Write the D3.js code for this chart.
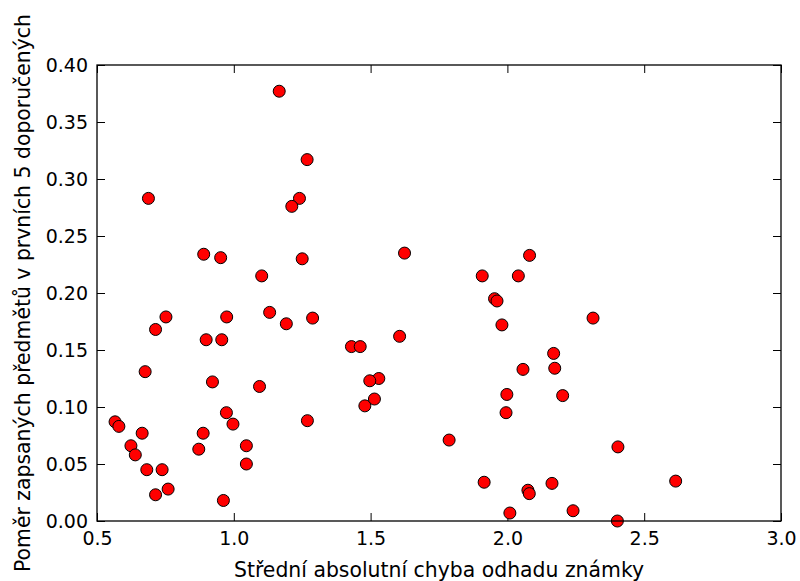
<!DOCTYPE html>
<html>
<head>
<meta charset="utf-8">
<script src="https://cdn.jsdelivr.net/npm/d3@7"></script>
<style>
  body { margin: 0; background: #fff; }
  svg { display: block; }
  text { font-family: "DejaVu Sans", sans-serif; fill: #000; }
</style>
</head>
<body>
<svg width="800" height="581"></svg>
<script>
// Mean absolute error of grade estimate (x) vs. share of enrolled courses in first 5 recommendations (y)
var errors = [
    1.166, 1.268, 0.688, 1.240, 1.212, 0.890, 0.952, 1.250, 1.102,
    1.131, 0.752, 0.974, 1.288, 1.192, 0.714, 0.899, 0.956, 0.676, 0.922,
    1.094, 0.973, 0.566, 1.269, 0.580, 0.997, 0.665, 0.888, 0.624, 1.046,
    0.872, 0.640, 0.682, 0.738, 1.046, 0.760, 0.714, 0.962,
    1.624, 2.081, 1.908, 2.040, 1.953, 1.962,
    1.980, 1.606, 1.430, 1.462, 2.169, 2.173, 2.057, 1.530, 1.497, 1.998,
    2.202, 1.514, 1.479, 1.995, 1.787, 1.915, 2.163, 2.075, 2.080, 2.009,
    2.240, 2.313, 2.404, 2.615, 2.402
];
var ratios = [
    0.377, 0.317, 0.283, 0.283, 0.276, 0.234, 0.231, 0.230, 0.215,
    0.183, 0.179, 0.179, 0.178, 0.173, 0.168, 0.159, 0.159, 0.131, 0.122,
    0.118, 0.095, 0.087, 0.088, 0.083, 0.085, 0.077, 0.077, 0.066, 0.066,
    0.063, 0.058, 0.045, 0.045, 0.050, 0.028, 0.023, 0.018,
    0.235, 0.233, 0.215, 0.215, 0.195, 0.193,
    0.172, 0.162, 0.153, 0.153, 0.147, 0.134, 0.133, 0.125, 0.123, 0.111,
    0.110, 0.107, 0.101, 0.095, 0.071, 0.034, 0.033, 0.027, 0.024, 0.007,
    0.009, 0.178, 0.065, 0.035, 0.000
];
var xTicks = [0.5, 1.0, 1.5, 2.0, 2.5, 3.0];
var yTicks = [0.00, 0.05, 0.10, 0.15, 0.20, 0.25, 0.30, 0.35, 0.40];

var svg = d3.select('svg');
var padding = {t: 65, r: 19, b: 60, l: 97};
var chartWidth = 800 - padding.l - padding.r;
var chartHeight = 581 - padding.t - padding.b;

var chartG = svg.append('g')
    .attr('transform', 'translate(' + [padding.l, padding.t] + ')');

var xScale = d3.scaleLinear().domain([0.5, 3.0]).range([0, chartWidth]);
var yScale = d3.scaleLinear().domain([0, 0.40]).range([chartHeight, 0]);

var tickLen = 8;
var fontSize = 19;
var labelSize = 20.4;

// axes: ticks pointing inward on all four sides
function styleAxis(g) {
    g.select('.domain').remove();
    g.selectAll('.tick line').attr('stroke', '#000').attr('stroke-width', 1);
    g.selectAll('.tick text').style('font-size', fontSize + 'px').attr('fill', '#000');
}

chartG.append('g')
    .attr('transform', 'translate(0,' + chartHeight + ')')
    .call(d3.axisBottom(xScale).tickValues(xTicks).tickFormat(d3.format('.1f'))
        .tickSizeInner(-tickLen).tickSizeOuter(0).tickPadding(11))
    .call(styleAxis);

chartG.append('g')
    .call(d3.axisTop(xScale).tickValues(xTicks).tickFormat('')
        .tickSizeInner(-tickLen).tickSizeOuter(0))
    .call(styleAxis);

chartG.append('g')
    .call(d3.axisLeft(yScale).tickValues(yTicks).tickFormat(d3.format('.2f'))
        .tickSizeInner(-tickLen).tickSizeOuter(0).tickPadding(9))
    .call(styleAxis);

chartG.append('g')
    .attr('transform', 'translate(' + chartWidth + ',0)')
    .call(d3.axisRight(yScale).tickValues(yTicks).tickFormat('')
        .tickSizeInner(-tickLen).tickSizeOuter(0))
    .call(styleAxis);

// points
chartG.selectAll('.dot')
    .data(errors.map(function(e, i) { return {x: e, y: ratios[i]}; }))
    .enter()
    .append('circle')
    .attr('class', 'dot')
    .attr('cx', d => xScale(d.x))
    .attr('cy', d => yScale(d.y))
    .attr('r', 6)
    .attr('fill', '#ff0000')
    .attr('stroke', '#000')
    .attr('stroke-width', 1);

// frame
chartG.append('rect')
    .attr('width', chartWidth)
    .attr('height', chartHeight)
    .attr('fill', 'none')
    .attr('stroke', '#000')
    .attr('stroke-width', 1.3);

// axis titles
svg.append('text')
    .attr('x', padding.l + chartWidth / 2)
    .attr('y', 577)
    .attr('text-anchor', 'middle')
    .style('font-size', labelSize + 'px')
    .text('Střední absolutní chyba odhadu známky');

svg.append('text')
    .attr('transform', 'translate(30,' + (padding.t + chartHeight / 2) + ') rotate(-90)')
    .attr('text-anchor', 'middle')
    .style('font-size', labelSize + 'px')
    .text('Poměr zapsaných předmětů v prvních 5 doporučených');
</script>
</body>
</html>
